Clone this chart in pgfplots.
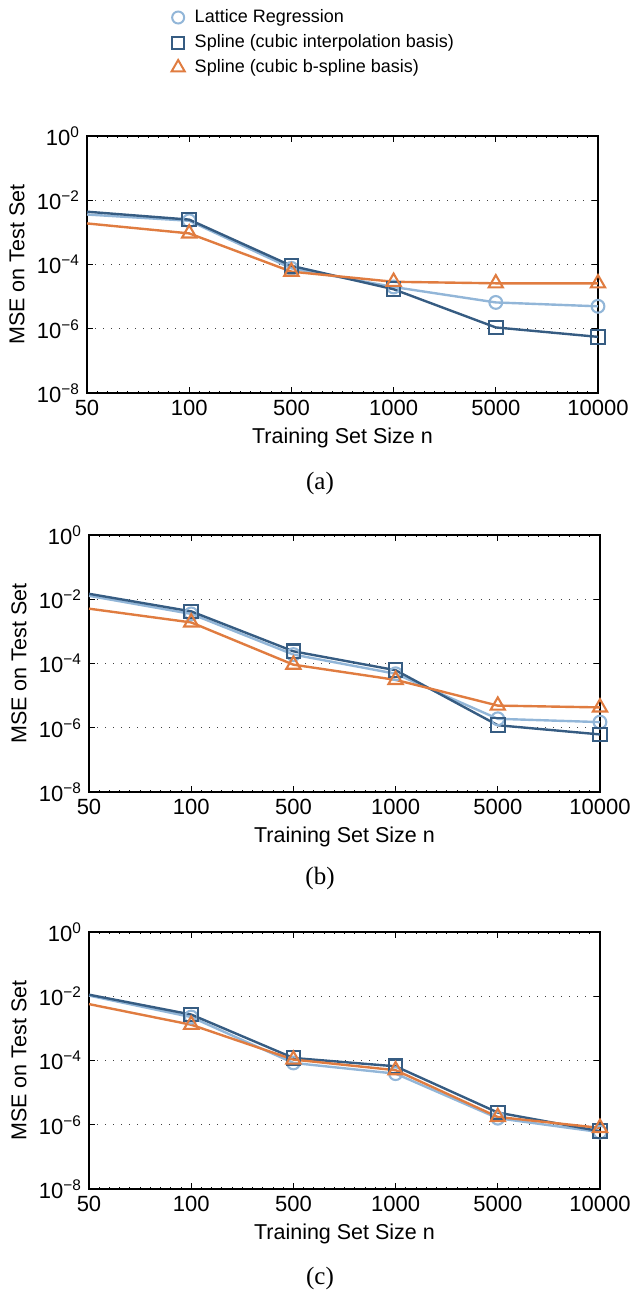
\documentclass[border=0pt]{standalone}
\usepackage{fontspec}
\setmainfont{Liberation Sans}
\newfontfamily\capfont{Liberation Serif}
\usepackage{pgfplots}
\pgfplotsset{compat=1.18}

\definecolor{lat}{RGB}{146,182,216}
\definecolor{cib}{RGB}{54,92,130}
\definecolor{bsp}{RGB}{224,124,64}

\pgfplotsset{every axis/.append style={
  width=255.5pt, height=128.5pt, scale only axis,
  xmin=0, xmax=5, ymin=1e-8, ymax=1,
  xtick={0,1,2,3,4,5}, xticklabels={50,100,500,1000,5000,10000},
  ytick={1e-8,1e-6,1e-4,1e-2,1},
  yticklabels={10\textsuperscript{−8},10\textsuperscript{−6},10\textsuperscript{−4},10\textsuperscript{−2},10\textsuperscript{0}},
  minor x tick num=9, yminorticks=false,
  tick align=inside, major tick length=3pt, minor tick length=1.2pt,
  tick style={black, line width=0.6pt}, minor tick style={line width=0.4pt},
  axis line style={line width=0.8pt},
  ymajorgrids, major grid style={black!75, line width=0.6pt, dash pattern=on 0.6pt off 3.4pt},
  tick label style={font=\fontsize{11}{13}\selectfont},
  xlabel={Training Set Size n}, ylabel={MSE on Test Set},
  xlabel style={at={(axis description cs:0.5,-0.175)}, anchor=center, font=\fontsize{10.75}{12}\selectfont},
  ylabel style={at={(axis description cs:-0.137,0.5)}, anchor=center, font=\fontsize{10.75}{12}\selectfont},
  clip=false,
}}

\begin{document}
\begin{tikzpicture}
\useasboundingbox (0,0) rectangle (317pt,-646pt);

% ---------- (a) ----------
\begin{axis}[ymode=log, at={(43.5pt,-68pt)}, anchor=north west,
  legend cell align=left,
  legend style={at={(axis description cs:0.153,1.525)}, anchor=north west, draw=none, fill=none,
    font=\fontsize{9}{10}\selectfont, column sep=3pt, row sep=0.5pt}]
\addlegendimage{only marks, color=lat, mark=o, mark size=3pt, mark options={line width=1pt}}
\addlegendentry{Lattice Regression}
\addlegendimage{only marks, color=cib, mark=square, mark size=3pt, mark options={line width=1pt}}
\addlegendentry{Spline (cubic interpolation basis)}
\addlegendimage{only marks, color=bsp, mark=triangle, mark size=3.8pt, mark options={line width=1pt}}
\addlegendentry{Spline (cubic b-spline basis)}
\addplot[color=lat, line width=1.2pt, mark=o, mark size=3.2pt, mark indices={2,3,4,5,6}, mark options={solid, line width=1.05pt}, forget plot] coordinates {(0,3.6e-3) (1,2.3e-3) (2,7.6e-5) (3,2.0e-5) (4,6.6e-6) (5,5.0e-6)};
\addplot[color=cib, line width=1.2pt, mark=square, mark size=3.4pt, mark indices={2,3,4,5,6}, mark options={solid, line width=1.05pt}, forget plot] coordinates {(0,4.4e-3) (1,2.5e-3) (2,9.1e-5) (3,1.7e-5) (4,1.1e-6) (5,5.6e-7)};
\addplot[color=bsp, line width=1.2pt, mark=triangle, mark size=4.1pt, mark indices={2,3,4,5,6}, mark options={solid, line width=1.05pt}, forget plot] coordinates {(0,1.9e-3) (1,9.3e-4) (2,6.0e-5) (3,2.9e-5) (4,2.6e-5) (5,2.6e-5)};
\end{axis}
\node[font=\capfont\fontsize{12.5}{14}\selectfont] at (160pt,-241.5pt) {(a)};

% ---------- (b) ----------
\begin{axis}[ymode=log, at={(44.5pt,-267.5pt)}, anchor=north west]
\addplot[color=lat, line width=1.2pt, mark=o, mark size=3.2pt, mark indices={2,3,4,5,6}, mark options={solid, line width=1.05pt}] coordinates {(0,1.28e-2) (1,3.5e-3) (2,1.9e-4) (3,4.8e-5) (4,1.9e-6) (5,1.5e-6)};
\addplot[color=cib, line width=1.2pt, mark=square, mark size=3.4pt, mark indices={2,3,4,5,6}, mark options={solid, line width=1.05pt}] coordinates {(0,1.48e-2) (1,4.2e-3) (2,2.4e-4) (3,6.2e-5) (4,1.2e-6) (5,6.2e-7)};
\addplot[color=bsp, line width=1.2pt, mark=triangle, mark size=4.1pt, mark indices={2,3,4,5,6}, mark options={solid, line width=1.05pt}] coordinates {(0,5.1e-3) (1,1.9e-3) (2,9.2e-5) (3,3.1e-5) (4,4.9e-6) (5,4.3e-6)};
\end{axis}
\node[font=\capfont\fontsize{12.5}{14}\selectfont] at (160pt,-439pt) {(b)};

% ---------- (c) ----------
\begin{axis}[ymode=log, at={(44.5pt,-466pt)}, anchor=north west]
\addplot[color=lat, line width=1.2pt, mark=o, mark size=3.2pt, mark indices={2,3,4,5,6}, mark options={solid, line width=1.05pt}] coordinates {(0,1.05e-2) (1,2.25e-3) (2,8.4e-5) (3,3.9e-5) (4,1.6e-6) (5,5.9e-7)};
\addplot[color=cib, line width=1.2pt, mark=square, mark size=3.4pt, mark indices={2,3,4,5,6}, mark options={solid, line width=1.05pt}] coordinates {(0,1.12e-2) (1,2.7e-3) (2,1.2e-4) (3,6.6e-5) (4,2.4e-6) (5,6.3e-7)};
\addplot[color=bsp, line width=1.2pt, mark=triangle, mark size=4.1pt, mark indices={2,3,4,5,6}, mark options={solid, line width=1.05pt}] coordinates {(0,5.7e-3) (1,1.3e-3) (2,1.07e-4) (3,5.0e-5) (4,1.75e-6) (5,8.0e-7)};
\end{axis}
\node[font=\capfont\fontsize{12.5}{14}\selectfont] at (160pt,-639pt) {(c)};
\end{tikzpicture}
\end{document}
